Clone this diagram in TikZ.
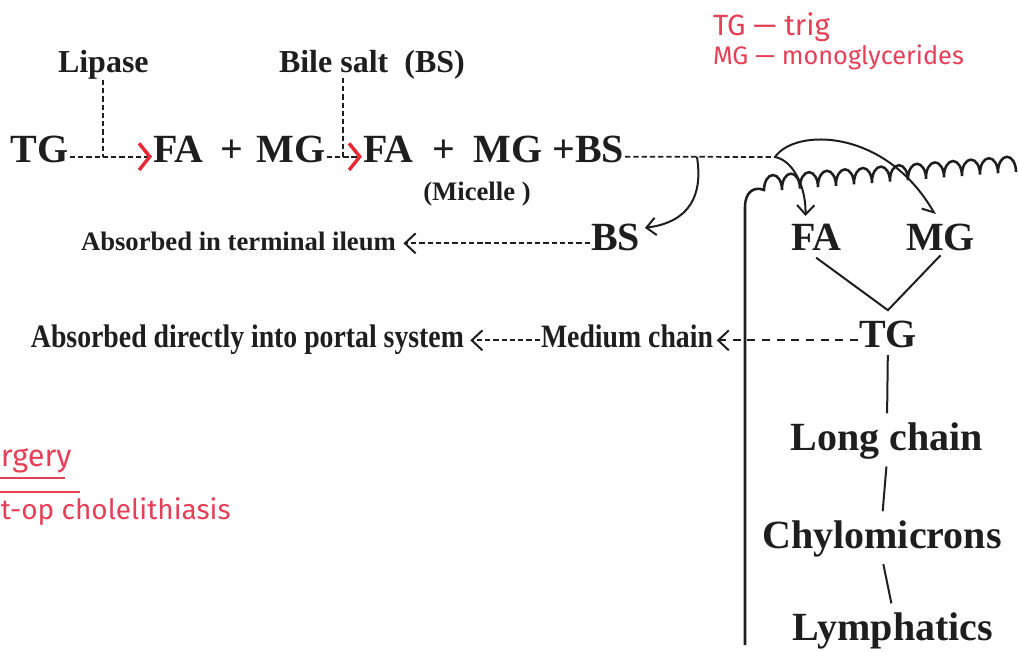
\documentclass[tikz,border=0pt]{standalone}
\usepackage{fontspec}
\setmainfont{Liberation Serif}
\newfontfamily\narrowfont[FakeStretch=0.85]{Liberation Serif}
\newfontfamily\handfont{Fira Sans}
\usetikzlibrary{arrows.meta,positioning,calc}
\definecolor{ink}{RGB}{30,30,30}
\definecolor{pen}{RGB}{228,64,88}
\definecolor{tipred}{RGB}{232,40,52}
\tikzset{
  every picture/.style={color=ink, line width=1.5pt, font=\bfseries},
  big/.style={font=\bfseries\fontsize{30}{32}\selectfont, inner sep=0pt, anchor=base west},
  mid/.style={font=\bfseries\fontsize{24}{26}\selectfont, inner sep=0pt, anchor=base west},
  small/.style={font=\bfseries\fontsize{20}{22}\selectfont, inner sep=0pt, anchor=base west},
  narrow/.style={font=\narrowfont\bfseries\fontsize{24.5}{26}\selectfont, inner sep=0pt, anchor=base west},
  hand/.style={font=\handfont\fontsize{20}{22}\selectfont, text=pen, inner sep=0pt, anchor=base west},
  hop/.style={line width=1.3pt, dash pattern=on 4pt off 2.2pt},
  flow/.style={hop, -{Straight Barb[length=8pt,width=15pt,line width=1.5pt]}},
  redflow/.style={hop, -{Straight Barb[length=8pt,width=20pt,line width=2.6pt,color=tipred]}},
  curl/.style={-{Straight Barb[length=7pt,width=13pt]}},
  stem/.style={shorten <=5pt, shorten >=6pt},
  wall/.style={line width=1.9pt},
  pencil/.style={pen, line width=1.1pt},
}

\begin{document}
\begin{tikzpicture}[x=0.75pt, y=-0.75pt]
  \useasboundingbox (0,0) rectangle (1018,651);
  % enzymes on top
  \node[mid] (lip) at (57,72) {Lipase};
  \node[mid] (bile) at (278,72) {Bile salt\ \ (BS)};
  % digestion chain in the lumen
  \node[big] (tg) at (10,162) {TG};
  \node[big] (fa) at (152,162) {FA\hspace{5pt} + \hspace{3pt}MG};
  \node[big] (fb) at (362,162) {FA\hspace{7pt} + \hspace{6pt}MG +BS};
  \node[small, anchor=base] (mic) at (477,200) {(Micelle )};
  \coordinate (r1) at ([yshift=4pt]tg.base east);
  \coordinate (r2) at ([yshift=4pt]fa.base east);
  \coordinate (b1) at ($(bile.south west)+(65,-2)$);
  \draw[redflow] (r1) -- ([yshift=4pt]fa.base west);
  \draw[redflow] (r2) -- ([yshift=4pt]fb.base west);
  \draw[hop] (lip.south) -- (lip.south |- r1);
  \draw[hop] (b1) -- (b1 |- r2);
  \coordinate (fork) at (697,157);
  \coordinate (split) at (775,157);
  \draw[hop] ([yshift=4pt]fb.base east) -- (split);
  % bile salt goes back
  \node[small] (abs1) at (80,250) {Absorbed in terminal ileum};
  \node[big] (bs) at (590,250) {BS};
  \draw[curl] (fork) .. controls (703,195) and (690,222) .. ([xshift=3pt,yshift=-4pt]bs.north east);
  \draw[flow] ([yshift=5pt]bs.base west) -- ([xshift=5pt,yshift=5pt]abs1.base east);
  % mucosa: wall and microvilli
  \draw[wall] (745,645) -- (745,207) .. controls (745,192) and (754,186) .. (764,190)
    foreach \i in {1,...,14} { arc[start angle=180, end angle=360, x radius=9, y radius=15] -- ++(0,-1.4) };
  % inside the cell
  \node[big] (fa3) at (790,250) {FA};
  \node[big] (mg3) at (905,250) {MG};
  \node[big] (tg2) at (858,347) {TG};
  \draw[curl] (split) .. controls (792,160) and (806,185) .. ([xshift=-8pt,yshift=5pt]fa3.north);
  \draw[-{Straight Barb[harpoon,swap,length=7pt,width=13pt]}] (split) .. controls (795,128) and (885,128) .. ([xshift=-4pt,yshift=6pt]mg3.north);
  \draw ([yshift=-5pt]fa3.south) -- ([yshift=7pt]tg2.north) -- ([yshift=-3pt]mg3.south);
  % medium and long chains
  \node[narrow] (abs2) at (30,347) {Absorbed directly into portal system};
  \node[narrow] (med) at (540,347) {Medium chain};
  \draw[flow, dash pattern=on 6pt off 5pt] ([yshift=5pt]tg2.base west) -- ([xshift=2pt,yshift=5pt]med.base east);
  \draw[flow] ([yshift=5pt]med.base west) -- ([xshift=4pt,yshift=5pt]abs2.base east);
  \node[big, anchor=base] (long) at (887,450) {Long chain};
  \node[big, anchor=base] (chylo) at (882,548) {Chylomicrons};
  \node[big, anchor=base] (lymph) at (893,640) {Lymphatics};
  \draw[stem] (tg2.south) -- (long.north);
  \draw[stem] (long.south) -- (chylo.north);
  \draw[stem] (chylo.south) -- (lymph.north);
  % pen notes
  \node[hand, font=\handfont\fontsize{22}{24}\selectfont] (n1) at (712,35) {TG\ —\ trig};
  \node[hand, font=\handfont\fontsize{19}{21}\selectfont] (n2) at (712,64) {MG — monoglycerides};
  \node[hand, font=\handfont\fontsize{23}{25}\selectfont] (n3) at (0,466) {rgery};
  \draw[pencil] (0,478) -- (65,478);
  \draw[pencil] (0,492) -- (80,492);
  \node[hand, font=\handfont\fontsize{21}{23}\selectfont] (n4) at (0,519) {t-op cholelithiasis};
\end{tikzpicture}
\end{document}
